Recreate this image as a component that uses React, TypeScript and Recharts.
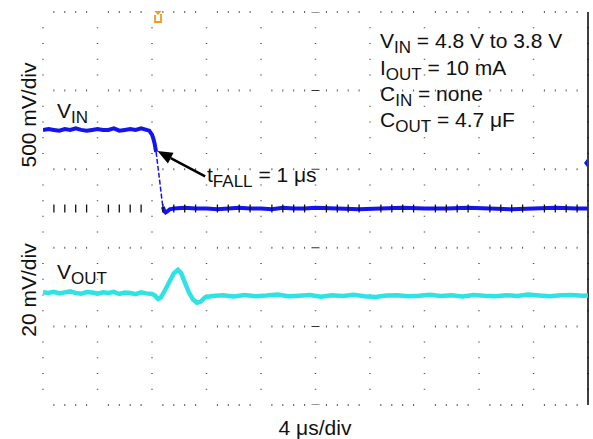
import { ComposedChart, XAxis, YAxis, CartesianGrid, Line, ReferenceLine, ReferenceDot } from 'recharts';

// time in µs (4 µs/div, 10 div), V_IN in volts (0.5 V/div), V_OUT in mV (20 mV/div)
const X_TICKS = [0, 4, 8, 12, 16, 20, 24, 28, 32, 36, 40];
const MINOR_STEPS = [0.8, 1.6, 2.4, 3.2];
const VIN_TICKS = [1.3, 2.3, 3.3, 4.3, 5.3, 6.3];
const VIN_CENTER = 3.8;
const VOUT_DOMAIN = [-57, 143];

const VIN_HIGH_T = [0, 0.4, 0.8, 1.2, 1.6, 2.0, 2.4, 2.8, 3.2, 3.6, 4.0, 4.4, 4.8, 5.2, 5.6, 6.0, 6.4, 6.8, 7.2, 7.6, 7.8, 8.0, 8.1, 8.2, 8.3];
const VIN_HIGH_V = [4.80, 4.81, 4.80, 4.79, 4.81, 4.80, 4.82, 4.80, 4.79, 4.80, 4.81, 4.80, 4.80, 4.82, 4.79, 4.80, 4.81, 4.80, 4.82, 4.80, 4.79, 4.74, 4.69, 4.62, 4.52];

const VIN_EDGE_T = [8.3, 8.4, 8.5, 8.6, 8.7, 8.8];
const VIN_EDGE_V = [4.52, 4.38, 4.24, 4.10, 3.95, 3.82];

const VIN_LOW_T = [8.8, 8.9, 9.0, 9.1, 9.3, 9.6, 10.4, 11.2, 12.0, 12.8, 13.6, 14.4, 15.2, 16.0, 16.8, 17.6, 18.4, 19.2, 20.0, 21.6, 23.2, 24.8, 26.4, 28.0, 29.6, 31.2, 32.8, 34.4, 36.0, 37.6, 39.2, 40];
const VIN_LOW_V = [3.82, 3.77, 3.75, 3.76, 3.79, 3.80, 3.81, 3.80, 3.80, 3.79, 3.80, 3.81, 3.80, 3.80, 3.79, 3.81, 3.80, 3.80, 3.81, 3.80, 3.79, 3.80, 3.81, 3.80, 3.80, 3.81, 3.80, 3.79, 3.80, 3.81, 3.80, 3.80];

const VOUT_T = [
  0, 0.4, 0.8, 1.2, 1.6, 2.0, 2.4, 2.8, 3.2, 3.6, 4.0, 4.4, 4.8, 5.2, 5.6, 6.0, 6.4, 6.8, 7.2, 7.6,
  8.0, 8.2, 8.44, 8.66, 8.96, 9.3, 9.6, 9.9, 10.15, 10.4, 10.7, 11.0, 11.3, 11.55, 11.9, 12.4,
  13.2, 14.0, 14.8, 15.6, 16.4, 17.2, 18.0, 18.8, 19.6, 20.4, 21.2, 22.0, 22.8, 23.6, 24.4, 25.2, 26.0,
  26.8, 27.6, 28.4, 29.2, 30.0, 30.8, 31.6, 32.4, 33.2, 34.0, 34.8, 35.6, 36.4, 37.2, 38.0, 38.8, 39.6, 40,
];
const VOUT_MV = [
  0.4, 0.0, 0.6, -0.2, 0.3, 0.8, 0.0, -0.4, 0.5, 0.2, -0.3, 0.4, 0.0, 0.6, -0.5, 0.2, 0.0, -0.6, 0.3, -0.2,
  -0.5, -1.2, -3.0, -2.2, 1.5, 6.0, 10.0, 11.8, 10.0, 5.5, 0.5, -3.2, -5.0, -4.5, -2.2, -1.5,
  -1.2, -1.8, -1.0, -1.6, -1.3, -0.8, -1.7, -1.4, -1.0, -1.9, -1.2, -1.5, -0.9, -1.6, -2.0, -1.3, -1.1,
  -1.7, -1.4, -0.9, -1.5, -1.2, -1.8, -1.0, -1.4, -1.6, -1.1, -1.5, -0.8, -1.3, -1.7, -1.2, -1.0, -1.4, -1.3,
];

const zip = (ts: number[], vs: number[]) => ts.map((t, i) => ({ t, v: vs[i] }));

// minor ticks on the horizontal centre axis (5 per division, majors left out)
const CENTER_TICKS = X_TICKS.slice(0, -1).flatMap((t) => MINOR_STEPS.map((d) => ({ t: t + d, v: VIN_CENTER })));

const ROW_DOTS = '0 10.4 1 9.9 1 9.9 1 9.9 1 10.4';
const COL_DOTS = '0 15.22 1 14.72 1 14.72 1 14.72 1 15.22';
const FONT = '"Liberation Sans", Arial, Helvetica, sans-serif';
const VIN_COLOR = '#1414ee';
const VOUT_COLOR = '#2ee3e3';

function Arrow(props: any) {
  const { x1, y1, x2, y2 } = props;
  const dx = x2 - x1;
  const dy = y2 - y1;
  const len = Math.hypot(dx, dy);
  const ux = dx / len;
  const uy = dy / len;
  const hl = 15;
  const hw = 6;
  const bx = x2 - ux * hl;
  const by = y2 - uy * hl;
  return (
    <g>
      <line x1={x1} y1={y1} x2={bx} y2={by} stroke="#000" strokeWidth={2.5} />
      <polygon
        points={`${x2},${y2} ${bx - uy * hw},${by + ux * hw} ${bx + uy * hw},${by - ux * hw}`}
        fill="#000"
      />
    </g>
  );
}

// short vertical tick drawn over the V_IN trace, as a ReferenceDot shape
function TickMark(p: any) {
  return <line x1={p.cx} y1={p.cy - 4} x2={p.cx} y2={p.cy + 4} stroke="#111" strokeWidth={1.3} />;
}

function Annotations() {
  return (
    <g fontFamily={FONT} fill="#111">
      <text transform="translate(36,115) rotate(-90)" textAnchor="middle" fontSize={21}>500 mV/div</text>
      <text transform="translate(36,290) rotate(-90)" textAnchor="middle" fontSize={21}>20 mV/div</text>
      <text x={315} y={435} textAnchor="middle" fontSize={21}>4 μs/div</text>

      <text x={57} y={118} fontSize={21}>V<tspan dy={5} fontSize={17}>IN</tspan></text>
      <text x={57} y={279} fontSize={21}>V<tspan dy={5} fontSize={17}>OUT</tspan></text>
      <text x={207} y={182} fontSize={21}>t<tspan dy={5} fontSize={17}>FALL</tspan><tspan dy={-5}> = 1 μs</tspan></text>

      <text x={380} y={48} fontSize={21}>V<tspan dy={5} fontSize={17}>IN</tspan><tspan dy={-5}> = 4.8 V to 3.8 V</tspan></text>
      <text x={380} y={75} fontSize={21}>I<tspan dy={5} fontSize={17}>OUT</tspan><tspan dy={-5}> = 10 mA</tspan></text>
      <text x={380} y={101} fontSize={21}>C<tspan dy={5} fontSize={17}>IN</tspan><tspan dy={-5}> = none</tspan></text>
      <text x={380} y={127} fontSize={21}>C<tspan dy={5} fontSize={17}>OUT</tspan><tspan dy={-5}> = 4.7 μF</tspan></text>
    </g>
  );
}

export default function App() {
  return (
    <div style={{ position: 'absolute', left: 0, top: 0, width: 593, height: 439, background: '#fff' }}>
      <ComposedChart width={593} height={439} margin={{ top: 12, right: 5, bottom: 34, left: 43 }}>
        <XAxis dataKey="t" type="number" domain={[0, 40]} ticks={X_TICKS} hide allowDataOverflow />
        <YAxis yAxisId="vin" type="number" domain={[1.3, 6.3]} ticks={VIN_TICKS} hide allowDataOverflow />
        <YAxis yAxisId="vout" type="number" domain={VOUT_DOMAIN} hide allowDataOverflow />

        <CartesianGrid yAxisId="vin" vertical={false} stroke="#555" strokeWidth={2} strokeDasharray={ROW_DOTS} />
        <CartesianGrid yAxisId="vin" horizontal={false} stroke="#555" strokeWidth={1.5} strokeDasharray={COL_DOTS} />

        <ReferenceLine yAxisId="vin" x={20} stroke="#333" strokeWidth={8} strokeDasharray="0.5 77.6 0.5 0" />
        <ReferenceLine yAxisId="vin" x={40} stroke="#000" strokeWidth={1.5} />

        <Line yAxisId="vout" data={zip(VOUT_T, VOUT_MV)} dataKey="v" stroke={VOUT_COLOR} strokeWidth={4.5} dot={false} isAnimationActive={false} />
        <Line yAxisId="vin" data={zip(VIN_HIGH_T, VIN_HIGH_V)} dataKey="v" stroke={VIN_COLOR} strokeWidth={4} dot={false} isAnimationActive={false} />
        <Line yAxisId="vin" data={zip(VIN_EDGE_T, VIN_EDGE_V)} dataKey="v" stroke={VIN_COLOR} strokeWidth={1.5} strokeDasharray="5 2" dot={false} isAnimationActive={false} />
        <Line yAxisId="vin" data={zip(VIN_LOW_T, VIN_LOW_V)} dataKey="v" stroke={VIN_COLOR} strokeWidth={4} dot={false} isAnimationActive={false} />

        {CENTER_TICKS.map((d) => (
          <ReferenceDot key={d.t} yAxisId="vin" x={d.t} y={d.v} r={4} shape={TickMark} ifOverflow="visible" />
        ))}

        <ReferenceLine
          yAxisId="vin"
          segment={[{ x: 11.9, y: 4.21 }, { x: 8.4, y: 4.53 }]}
          shape={Arrow}
        />
        <ReferenceDot
          yAxisId="vin"
          x={8.44}
          y={6.3}
          r={4}
          shape={(p: any) => (
            <g>
              <polygon points={`${p.cx - 3.5},${p.cy - 1} ${p.cx + 3.5},${p.cy - 1} ${p.cx},${p.cy + 3}`} fill="#f39a1e" />
              <path d={`M${p.cx - 3},${p.cy + 3} V${p.cy + 10} H${p.cx + 3} V${p.cy + 2}`} fill="none" stroke="#f39a1e" strokeWidth={1.8} />
            </g>
          )}
        />
        <ReferenceDot
          yAxisId="vin"
          x={40}
          y={4.38}
          r={4}
          shape={(p: any) => (
            <polygon points={`${p.cx - 4},${p.cy} ${p.cx - 1},${p.cy - 4} ${p.cx - 1},${p.cy + 4}`} fill={VIN_COLOR} />
          )}
        />

        <Annotations />
      </ComposedChart>
    </div>
  );
}
